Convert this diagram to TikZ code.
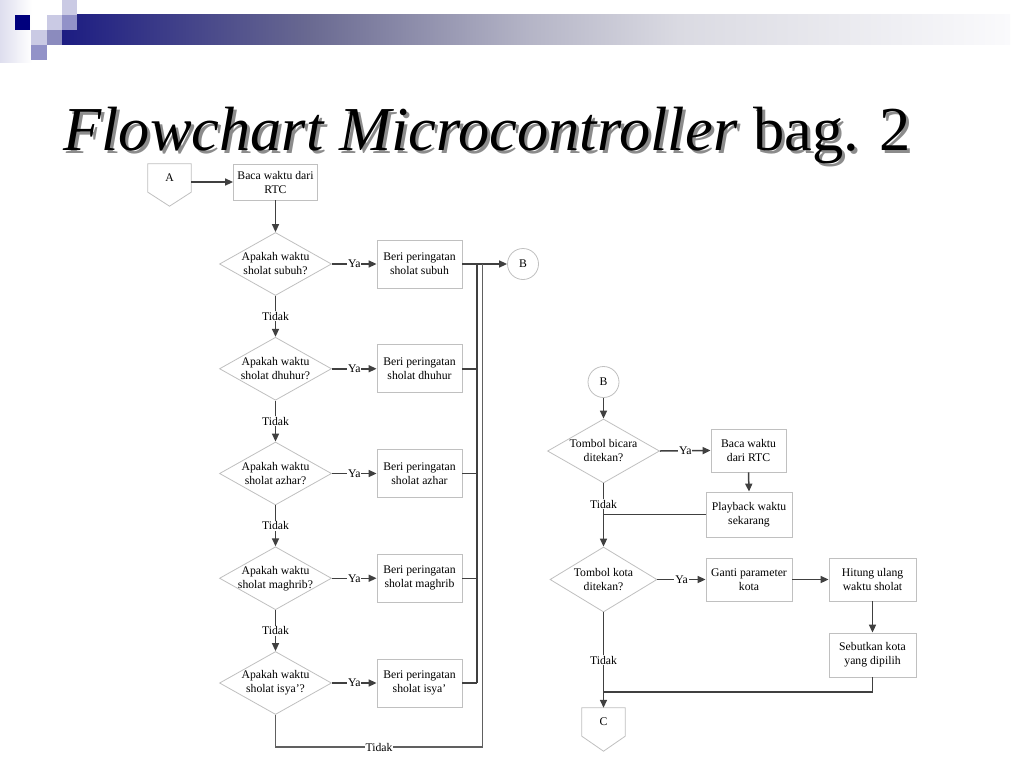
\documentclass[tikz,border=0pt]{standalone}
\usepackage{fontspec}
\setmainfont{Liberation Serif}
\usetikzlibrary{shapes.geometric,arrows.meta,calc}
\definecolor{navy}{RGB}{0,0,125}
\definecolor{bcz}{RGB}{28,28,130}
\definecolor{bco}{RGB}{105,105,145}
\definecolor{bct}{RGB}{180,180,198}
\definecolor{bcth}{RGB}{218,218,226}
\definecolor{bcf}{RGB}{250,250,252}
\definecolor{lavl}{RGB}{202,202,228}
\definecolor{lavm}{RGB}{146,146,200}
\definecolor{lavedge}{RGB}{222,222,238}
\definecolor{conn}{RGB}{64,64,64}
\definecolor{loopc}{RGB}{96,96,96}
\definecolor{edge}{RGB}{192,192,192}
\pgfdeclarehorizontalshading{bannershade}{100bp}{color(0bp)=(bcz); color(25bp)=(bcz); color(38bp)=(bco); color(49.5bp)=(bct); color(57.5bp)=(bcth); color(75bp)=(bcf); color(100bp)=(bcf)}
\newcommand\twoline[2]{\makebox[20pt]{\parbox{110pt}{\centering #1\\#2}}}
\begin{document}
\begin{tikzpicture}[x=1pt,y=-1pt,
  every node/.style={font=\fontsize{11.7}{14}\selectfont},
  proc/.style={draw=edge, line width=0.8pt, rectangle, inner sep=0pt, align=center},
  dec/.style={draw=edge, line width=0.8pt, diamond, inner sep=0pt, minimum width=112pt, minimum height=63pt},
  conncirc/.style={draw=edge, line width=0.8pt, circle, minimum size=31pt, inner sep=0pt},
  offpage/.style={minimum width=43pt, minimum height=28pt, inner sep=0pt},
  offline/.style={draw=edge, line width=0.8pt},
  flow/.style={draw=conn, line width=1.5pt, -{Triangle[length=8pt,width=7pt]}},
  line/.style={draw=conn, line width=1.5pt},
  lab/.style={fill=white, inner sep=1pt},
  titlefont/.style={font=\fontsize{62.5}{62.5}\selectfont, inner sep=0pt, anchor=base west}
]
\useasboundingbox (0,0) rectangle (1024,768);
\fill[white] (0,0) rectangle (1024,768);
% banner decoration
\shade[left color=lavedge, right color=white] (0,0) rectangle (32,62);
\shade[shading=bannershade] (62,15) rectangle (1010,45);
\fill[navy] (15,15) rectangle (30,30);
\fill[lavl] (47,15) rectangle (62,30);
\fill[lavm] (62,15) rectangle (77,30);
\fill[lavl] (62,0) rectangle (77,15);
\fill[lavl] (31,30) rectangle (47,45);
\fill[lavm!95!black] (47,30) rectangle (62,45);
\fill[lavm] (31,45) rectangle (47,60);
% title
\node[titlefont, text=black!45] (titleshadow) at (66,153) {\textit{Flowchart Microcontroller} bag. 2};
\node[titlefont] (title) at (63,150) {\textit{Flowchart Microcontroller} bag. 2};

% left chart
\node[offpage] (A) at (169.5,178) {A};
\draw[offline] (A.north west) -- (A.north east) -- (A.south east) -- ($(A.south)+(0,14)$) -- (A.south west) -- cycle;
\node[proc, minimum width=84pt, minimum height=36pt] (baca) at (275.5,182) {Baca waktu dari\\RTC};
\node[dec] (d1) at (275.5,264) {\twoline{Apakah waktu}{sholat subuh?}};
\node[dec] (d2) at (275.5,368.75) {\twoline{Apakah waktu}{sholat dhuhur?}};
\node[dec] (d3) at (275.5,473.5) {\twoline{Apakah waktu}{sholat azhar?}};
\node[dec] (d4) at (275.5,578.25) {\twoline{Apakah waktu}{sholat maghrib?}};
\node[dec] (d5) at (275.5,683) {\twoline{Apakah waktu}{sholat isya'?}};
\node[proc, minimum width=85pt, minimum height=48pt] (b1) at (419.5,264) {Beri peringatan\\sholat subuh};
\node[proc, minimum width=85pt, minimum height=48pt] (b2) at (419.5,368.75) {Beri peringatan\\sholat dhuhur};
\node[proc, minimum width=85pt, minimum height=48pt] (b3) at (419.5,473.5) {Beri peringatan\\sholat azhar};
\node[proc, minimum width=85pt, minimum height=48pt] (b4) at (419.5,578.25) {Beri peringatan\\sholat maghrib};
\node[proc, minimum width=85pt, minimum height=48pt] (b5) at (419.5,683) {Beri peringatan\\sholat isya'};
\node[conncirc] (B1) at (523,264) {B};

\draw[flow] (A.east |- baca.west) -- (baca.west);
\draw[flow] (baca.south) -- (d1.north);
\draw[flow] (d1.east) -- node[lab]{Ya} (b1.west);
\draw[flow] (d2.east) -- node[lab]{Ya} (b2.west);
\draw[flow] (d3.east) -- node[lab]{Ya} (b3.west);
\draw[flow] (d4.east) -- node[lab]{Ya} (b4.west);
\draw[flow] (d5.east) -- node[lab]{Ya} (b5.west);
\draw[flow] (d1.south) -- node[lab]{Tidak} (d2.north);
\draw[flow] (d2.south) -- node[lab]{Tidak} (d3.north);
\draw[flow] (d3.south) -- node[lab]{Tidak} (d4.north);
\draw[flow] (d4.south) -- node[lab]{Tidak} (d5.north);
\draw[flow] (b1.east) -- (B1.west);
\coordinate (vx) at (477,0);
\draw[line] (b1.east -| vx) -- (b5.east -| vx);
\draw[line] (b2.east) -- (b2.east -| vx);
\draw[line] (b3.east) -- (b3.east -| vx);
\draw[line] (b4.east) -- (b4.east -| vx);
\draw[line] (b5.east) -- (b5.east -| vx);
\coordinate (lx) at (482.5,747);
\draw[line, draw=loopc] (d5.south) |- node[lab, pos=0.75]{Tidak} (lx) -- (lx |- b1.east);

% right chart
\node[conncirc] (B2) at (603.5,382) {B};
\node[dec, minimum height=64pt] (r1) at (603.5,451) {\twoline{Tombol bicara}{ditekan?}};
\node[proc, minimum width=75pt, minimum height=43pt] (rb1) at (748.5,450.5) {Baca waktu\\dari RTC};
\node[proc, minimum width=86pt, minimum height=45pt] (rb2) at (749,514.5) {Playback waktu\\sekarang};
\node[dec, minimum width=107pt, minimum height=65pt] (r2) at (603.5,579.5) {\twoline{Tombol kota}{ditekan?}};
\node[proc, minimum width=86pt, minimum height=43pt] (rb3) at (749,579.5) {Ganti parameter\\kota};
\node[proc, minimum width=87pt, minimum height=43pt] (rb4) at (872.5,579.5) {Hitung ulang\\waktu sholat};
\node[proc, minimum width=87pt, minimum height=44pt] (rb5) at (872.5,655) {Sebutkan kota\\yang dipilih};
\node[offpage] (C) at (603.5,722) {C};
\draw[offline] (C.north west) -- (C.north east) -- (C.south east) -- ($(C.south)+(0,15)$) -- (C.south west) -- cycle;

\draw[flow] (B2.south) -- (r1.north);
\draw[flow] (r1.east) -- node[lab]{Ya} (rb1.west);
\draw[flow] (rb1.south) -- (rb2.north);
\draw[line] (rb2.west) -- (rb2.west -| r1.south);
\draw[flow] (r1.south) -- node[lab, pos=0.33]{Tidak} (r2.north);
\draw[flow] (r2.east) -- node[lab]{Ya} (rb3.west);
\draw[flow] (rb3.east) -- (rb4.west);
\draw[flow] (rb4.south) -- (rb5.north);
\coordinate (j2) at (603.5,692);
\draw[line] (rb5.south) |- (j2);
\draw[flow] (r2.south) -- node[lab]{Tidak} (C.north);
\end{tikzpicture}
\end{document}
